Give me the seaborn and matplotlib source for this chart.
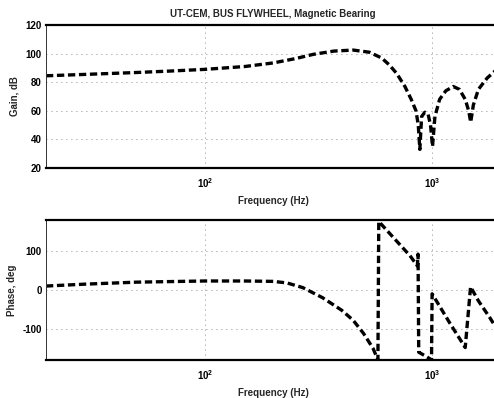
import numpy as np
import pandas as pd
import matplotlib
matplotlib.use("Agg")
import matplotlib.pyplot as plt
import seaborn as sns

# --- data ---
gain_freq = [20, 30, 50, 70, 100, 150, 200, 250, 300, 370, 450, 530, 600, 650,
             700, 760, 810, 850, 870, 884, 900, 930, 960, 985, 1005, 1030, 1080,
             1150, 1240, 1320, 1400, 1450, 1480, 1520, 1600, 1750, 1900, 2000]
gain_db = [84.5, 85.5, 86.8, 87.8, 89, 91, 93.5, 96.5, 99.5, 101.8, 102.5, 101,
           97, 92, 86, 77, 68, 60, 50, 33, 56, 59, 58, 50, 35, 56, 68,
           74, 77, 75, 68, 60, 52, 64, 75, 83, 88, 90.5]

phase_freq = [20, 30, 50, 100, 150, 200, 230, 270, 330, 400, 450, 500, 550, 578,
              583, 700, 800, 862, 868, 874, 950, 995, 1001, 1050, 1200, 1400,
              1478, 1600, 1800, 2000]
phase_deg = [10, 15, 20, 23, 23, 22, 18, 6, -20, -52, -78, -112, -150, -180,
             176, 125, 88, 62, 92, -160, -172, -180, -10, -30, -86, -148,
             8, -28, -72, -115]

gain_ticks = [20, 40, 60, 80, 100, 120]
phase_ticks = [-100, 0, 100]
freq_ticks = [100, 1000]
freq_tick_labels = ["$\\mathbf{10^2}$", "$\\mathbf{10^3}$"]

title = "UT-CEM, BUS FLYWHEEL, Magnetic Bearing"
xlabel = "Frequency (Hz)"
gain_label = "Gain, dB"
phase_label = "Phase, deg"

sns.set_style("white")
plt.rcParams["font.family"] = ["Liberation Sans", "DejaVu Sans"]
plt.rcParams["font.weight"] = "bold"
plt.rcParams["mathtext.fontset"] = "custom"
plt.rcParams["mathtext.bf"] = "Liberation Sans:bold"
plt.rcParams["mathtext.rm"] = "Liberation Sans"

fig = plt.figure(figsize=(4.94, 3.98), dpi=100)
ax1 = fig.add_axes([0.093, 0.578, 0.92, 0.359])
ax2 = fig.add_axes([0.093, 0.0955, 0.92, 0.352])

gdf = pd.DataFrame({"f": gain_freq, "g": gain_db})
pdf = pd.DataFrame({"f": phase_freq, "p": phase_deg})

line_kw = dict(color="black", linewidth=2.4, estimator=None, sort=False)
sns.lineplot(data=gdf, x="f", y="g", ax=ax1, **line_kw)
sns.lineplot(data=pdf, x="f", y="p", ax=ax2, **line_kw)
for ax in (ax1, ax2):
    for ln in ax.get_lines():
        ln.set_linestyle((0, (2.2, 1.1)))
        ln.set_dash_capstyle("butt")

for ax, ylab, yt, ylim in ((ax1, gain_label, gain_ticks, (20, 120)),
                           (ax2, phase_label, phase_ticks, (-180, 180))):
    ax.set_xscale("log")
    ax.set_xlim(20, 2000)
    ax.set_ylim(*ylim)
    ax.set_yticks(yt)
    ax.set_yticklabels([str(v) for v in yt], fontsize=7, fontweight="bold")
    ax.set_xticks(freq_ticks)
    ax.set_xticklabels(freq_tick_labels, fontsize=7)
    ax.minorticks_off()
    ax.tick_params(direction="in", length=3, width=0.8, colors="black")
    ax.tick_params(axis="x", pad=6)
    ax.tick_params(axis="y", pad=3)
    ax.grid(True, which="major", linestyle=(0, (1, 5)), color="#666666", linewidth=0.6)
    ax.set_xlabel(xlabel, fontsize=7, fontweight="bold", labelpad=4)
    ax.set_ylabel(ylab, fontsize=7, fontweight="bold", labelpad=4)
    for side in ("top", "bottom"):
        ax.spines[side].set_linewidth(1.6)
        ax.spines[side].set_color("black")
    ax.spines["left"].set_linewidth(0.7)
    ax.spines["left"].set_color("#333333")
    ax.spines["right"].set_visible(False)

ax1.set_title(title, fontsize=7, fontweight="bold", pad=6)

fig.savefig("out.png", dpi=100)
